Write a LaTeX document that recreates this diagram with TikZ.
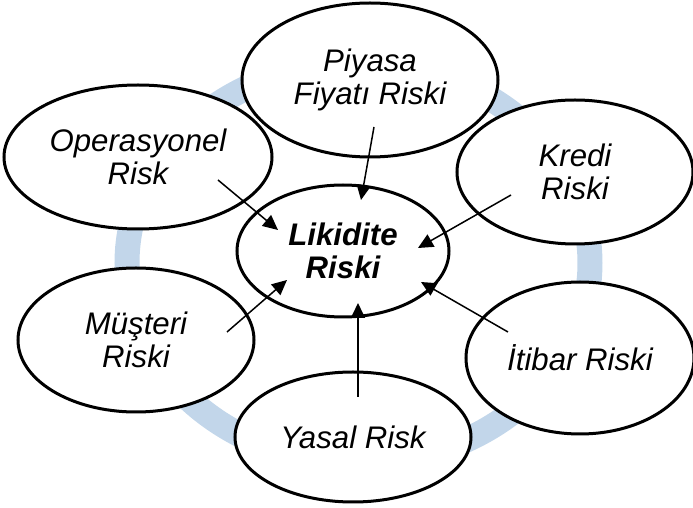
\documentclass[tikz,border=0pt]{standalone}
\usepackage{fontspec}
\setmainfont{Liberation Sans}
\usetikzlibrary{shapes.geometric,arrows.meta}
\definecolor{ringblue}{RGB}{194,214,234}
\tikzset{
  riskbox/.style={ellipse, draw=black, line width=1.5pt, fill=white, inner sep=0pt,
    align=center, font=\fontsize{15.6}{16.5}\selectfont\itshape},
  centerbox/.style={riskbox, font=\fontsize{15.6}{16.5}\selectfont\bfseries\itshape},
  arr/.style={draw=black, line width=0.75pt, -{Triangle[length=7.5pt,width=7pt]}},
  ring/.style={draw=ringblue, line width=12.5pt}
}
\begin{document}
\begin{tikzpicture}[x=0.5pt,y=-0.5pt]
\useasboundingbox (0,0) rectangle (693,508);
\draw[ring] (358.5,263) ellipse [x radius=231.5, y radius=200];
\node[riskbox, minimum width=128pt, minimum height=77pt] (piy) at (370,80) {Piyasa\\Fiyatı Riski};
\node[riskbox, minimum width=118pt, minimum height=72pt] (kre) at (575,172) {Kredi\\Riski};
\node[riskbox, minimum width=114pt, minimum height=76pt] (iti) at (580,358) {İtibar Riski};
\node[riskbox, minimum width=118pt, minimum height=65pt] (yas) at (353,437) {Yasal Risk};
\node[riskbox, minimum width=118pt, minimum height=72pt] (mus) at (136,340) {Müşteri\\Riski};
\node[riskbox, minimum width=134pt, minimum height=72pt] (ope) at (138,157) {Operasyonel\\Risk};
\node[centerbox, minimum width=106pt, minimum height=66pt] (lik) at (343,251) {Likidite\\Riski};
\coordinate (piyS) at (374,127); \coordinate (piyE) at (361,200);
\coordinate (kreS) at (511,195); \coordinate (kreE) at (418,248);
\coordinate (opeS) at (218,180); \coordinate (opeE) at (278,230);
\coordinate (musS) at (227,332); \coordinate (musE) at (287,280);
\coordinate (yasS) at (358,397); \coordinate (yasE) at (358,303);
\coordinate (itiS) at (508,332); \coordinate (itiE) at (421,282);
\draw[arr] (piyS) -- (piyE);
\draw[arr] (kreS) -- (kreE);
\draw[arr] (opeS) -- (opeE);
\draw[arr] (musS) -- (musE);
\draw[arr] (yasS) -- (yasE);
\draw[arr] (itiS) -- (itiE);
\end{tikzpicture}
\end{document}
